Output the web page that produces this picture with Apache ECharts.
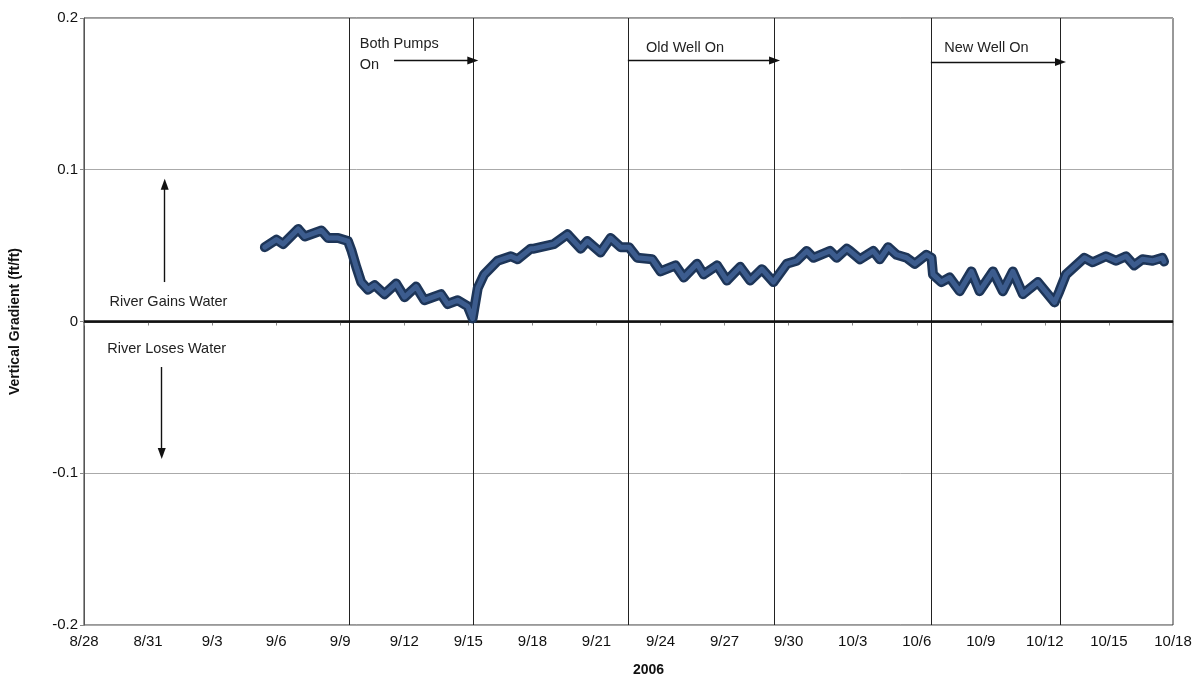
<!DOCTYPE html>
<html><head><meta charset="utf-8">
<script src="https://cdn.jsdelivr.net/npm/echarts@6/dist/echarts.min.js"></script>
<style>html,body{margin:0;padding:0;background:#fff}#c{width:1196px;height:689px}</style>
</head><body><div id="c"></div>
<script>
// Day offsets measured from 2006-08-28 00:00
const startDate = Date.UTC(2006, 7, 28);
const dayOffsets = [
  8.47, 9.01, 9.33, 10.03, 10.34, 11.12, 11.43, 11.90, 12.36, 12.52, 12.75, 12.98,
  13.30, 13.61, 14.07, 14.62, 15.01, 15.55, 15.94, 16.72, 17.03, 17.50, 17.97, 18.20,
  18.44, 18.74, 19.37, 19.99, 20.30, 20.92, 21.07, 22.00, 22.64, 23.26, 23.57, 24.19,
  24.66, 25.13, 25.52, 25.91, 26.61, 27.00, 27.70, 28.09, 28.71, 29.02, 29.65, 30.11,
  30.73, 31.20, 31.75, 32.29, 32.91, 33.38, 33.85, 34.16, 34.94, 35.25, 35.72, 35.87,
  36.34, 36.96, 37.27, 37.66, 38.05, 38.52, 38.91, 39.45, 39.69, 39.76, 40.15, 40.54,
  41.01, 41.56, 41.94, 42.57, 43.03, 43.50, 43.97, 44.67, 45.45, 45.68, 45.99, 46.85,
  47.24, 47.86, 48.33, 48.80, 49.18, 49.57, 50.04, 50.50, 50.58
];
const gradient = [
  0.049, 0.054, 0.051, 0.061, 0.056, 0.060, 0.055, 0.055, 0.053, 0.047, 0.036, 0.026,
  0.021, 0.024, 0.018, 0.025, 0.016, 0.023, 0.014, 0.018, 0.0115, 0.014, 0.010, 0.002,
  0.022, 0.031, 0.040, 0.043, 0.041, 0.048, 0.048, 0.051, 0.0575, 0.048, 0.053, 0.0455,
  0.055, 0.049, 0.049, 0.042, 0.041, 0.033, 0.037, 0.029, 0.038, 0.031, 0.037, 0.027,
  0.036, 0.027, 0.0345, 0.026, 0.038, 0.040, 0.0465, 0.042, 0.0465, 0.042, 0.048, 0.0465,
  0.041, 0.0465, 0.041, 0.049, 0.044, 0.042, 0.038, 0.044, 0.042, 0.031, 0.026, 0.029,
  0.020, 0.033, 0.020, 0.033, 0.020, 0.033, 0.018, 0.026, 0.0126, 0.020, 0.031, 0.042,
  0.039, 0.043, 0.040, 0.043, 0.037, 0.041, 0.040, 0.042, 0.0395
];
const yTicks = [-0.2, -0.1, 0, 0.1, 0.2];
const xTickStep = 3;      // days between date labels
const xDayMax = 51;       // 8/28 .. 10/18
const eventDays = [12.41, 18.21, 25.47, 32.34, 39.66, 45.73];

const font = 'Liberation Sans, Arial, sans-serif';
const seriesData = dayOffsets.map((d, i) => [d, gradient[i]]);

function dayLabel(v) {
  const dt = new Date(startDate + v * 86400000);
  return (dt.getUTCMonth() + 1) + '/' + dt.getUTCDate();
}

// annotation arrows (data coordinates)
const arrowLines = [
  [[14.52, 0.172], [18.21, 0.172]],
  [[25.47, 0.172], [32.34, 0.172]],
  [[39.66, 0.171], [45.73, 0.171]],
  [[3.78, 0.026], [3.78, 0.0905]],
  [[3.64, -0.030], [3.64, -0.087]]
];
const notes = [
  { text: 'Both Pumps', at: [12.89, 0.1826] },
  { text: 'On', at: [12.89, 0.169] },
  { text: 'Old Well On', at: [26.30, 0.180] },
  { text: 'New Well On', at: [40.26, 0.180] },
  { text: 'River Gains Water', at: [1.17, 0.0128] },
  { text: 'River Loses Water', at: [1.07, -0.0181] }
];

const chart = echarts.init(document.getElementById('c'), null, { renderer: 'canvas' });
chart.setOption({
  animation: false,
  backgroundColor: '#fff',
  grid: { left: 82, right: 23, top: 18, bottom: 64, show: true, borderColor: '#333', borderWidth: 1 },
  xAxis: {
    type: 'value', min: 0, max: xDayMax, interval: xTickStep,
    name: '2006', nameLocation: 'middle', nameGap: 38,
    nameTextStyle: { fontFamily: font, fontSize: 14, fontWeight: 'bold', color: '#111', padding: [0, 0, 0, 40] },
    axisLine: { show: true, lineStyle: { color: '#222', width: 1.5 } },
    axisTick: { show: true, length: 4, lineStyle: { color: '#888' } },
    axisLabel: { formatter: dayLabel, fontFamily: font, fontSize: 15, color: '#111', margin: 9 },
    splitLine: { show: false }
  },
  yAxis: {
    type: 'value', min: yTicks[0], max: yTicks[yTicks.length - 1], interval: 0.1,
    name: 'Vertical Gradient (ft/ft)', nameLocation: 'middle', nameGap: 62,
    nameTextStyle: { fontFamily: font, fontSize: 14, fontWeight: 'bold', color: '#111' },
    axisLine: { show: true, lineStyle: { color: '#555' } },
    axisTick: { show: true, length: 4, lineStyle: { color: '#888' } },
    axisLabel: { fontFamily: font, fontSize: 15, color: '#111', margin: 6,
      formatter: v => (Math.abs(v) < 1e-9 ? '0' : String(Math.round(v * 10) / 10)) },
    splitLine: { show: true, lineStyle: { color: '#aaa', width: 1 } }
  },
  series: [
    {
      type: 'line', data: seriesData, showSymbol: false, z: 5,
      lineStyle: { color: '#1d3558', width: 10, join: 'round', cap: 'round' },
      markLine: {
        silent: true, symbol: 'none', label: { show: false },
        data: [
          ...eventDays.map(d => ({ xAxis: d, lineStyle: { color: '#222', width: 1, type: 'solid' } })),
          { yAxis: 0, lineStyle: { color: '#111', width: 2.5, type: 'solid' } }
        ]
      }
    },
    {
      type: 'line', data: seriesData, showSymbol: false, z: 6,
      lineStyle: { color: '#3c5c8e', width: 5, join: 'round', cap: 'round' },
      markLine: {
        silent: true, symbol: ['none', 'triangle'], symbolSize: [8, 11],
        label: { show: false },
        lineStyle: { color: '#111', width: 1.4, type: 'solid' },
        data: arrowLines.map(a => [{ coord: a[0] }, { coord: a[1] }])
      },
      markPoint: {
        silent: true, symbol: 'circle', symbolSize: 1,
        itemStyle: { color: 'rgba(0,0,0,0)' },
        label: { show: true, position: 'right', distance: 0, fontFamily: font, fontSize: 14.5, color: '#222' },
        data: notes.map(n => ({ coord: n.at, value: n.text, label: { formatter: n.text } }))
      }
    }
  ]
});
</script>
</body></html>
